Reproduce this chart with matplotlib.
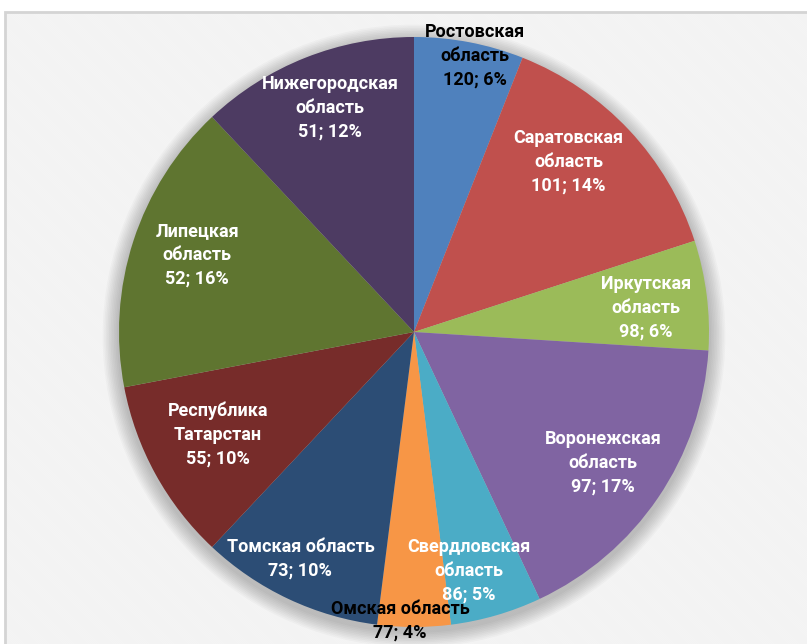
import numpy as np
import matplotlib.pyplot as plt
from matplotlib.patches import Rectangle, Circle

plt.rcParams['font.family'] = ['Roboto', 'DejaVu Sans']
plt.rcParams['hatch.linewidth'] = 1.0

# data
regions = ["Ростовская\nобласть", "Саратовская\nобласть", "Иркутская\nобласть",
           "Воронежская\nобласть", "Свердловская\nобласть", "Омская область",
           "Томская область", "Республика\nТатарстан", "Липецкая\nобласть",
           "Нижегородская\nобласть"]
values = [120, 101, 98, 97, 86, 77, 73, 55, 52, 51]
shares = [6, 14, 6, 17, 5, 4, 10, 10, 16, 12]

colors = ["#4F81BD", "#C0504D", "#9BBB59", "#8064A2", "#4BACC6",
          "#F79646", "#2C4D75", "#772C2A", "#5F7530", "#4D3B62"]
text_colors = ["black", "white", "white", "white", "white",
               "black", "white", "white", "white", "white"]
# label placement: fraction of radius and angle nudge (degrees)
label_dist = [0.96, 0.78, 0.79, 0.78, 0.83, 0.98, 0.86, 0.75, 0.78, 0.81]
label_turn = [-1.7, 4.6, -1.3, -0.5, -3.2, -2.8, -1.4, -1.2, -1.5, -1.1]

W, H = 807, 644
fig = plt.figure(figsize=(W / 100, H / 100), dpi=100)
ax = fig.add_axes([0, 0, 1, 1])

# background frame with faint diagonal stripes
ax.add_patch(Rectangle((5, -10), W, H - 12 + 10, facecolor="white",
                       edgecolor="#f3f3f3", hatch="\\" * 16, linewidth=0, zorder=0))
ax.add_patch(Rectangle((5, -10), W, H - 12 + 10, fill=False,
                       edgecolor="#d4d4d4", linewidth=2, zorder=0.5))

cx, cy, R = 414, 312, 295

# soft shadow around the pie
for k in range(10):
    ax.add_patch(Circle((cx, cy - 4), R + 2 + k * 1.6, facecolor="#000000",
                        alpha=0.025, linewidth=0, zorder=1))

wedges, _ = ax.pie(shares, colors=colors, startangle=90, counterclock=False,
                   center=(cx, cy), radius=R,
                   wedgeprops=dict(linewidth=0, zorder=2))

for w, name, v, s, tc, d, t in zip(wedges, regions, values, shares, text_colors,
                                   label_dist, label_turn):
    ang = np.deg2rad((w.theta1 + w.theta2) / 2 + t)
    x = cx + d * R * np.cos(ang)
    y = cy + d * R * np.sin(ang)
    ax.text(x, y, f"{name}\n{v}; {s}%", ha="center", va="center",
            color=tc, fontsize=13, fontweight="bold", linespacing=1.42, zorder=5)

ax.set_xlim(0, W)
ax.set_ylim(0, H)
ax.set_aspect("equal")
ax.axis("off")

fig.savefig("out.png", dpi=100)
